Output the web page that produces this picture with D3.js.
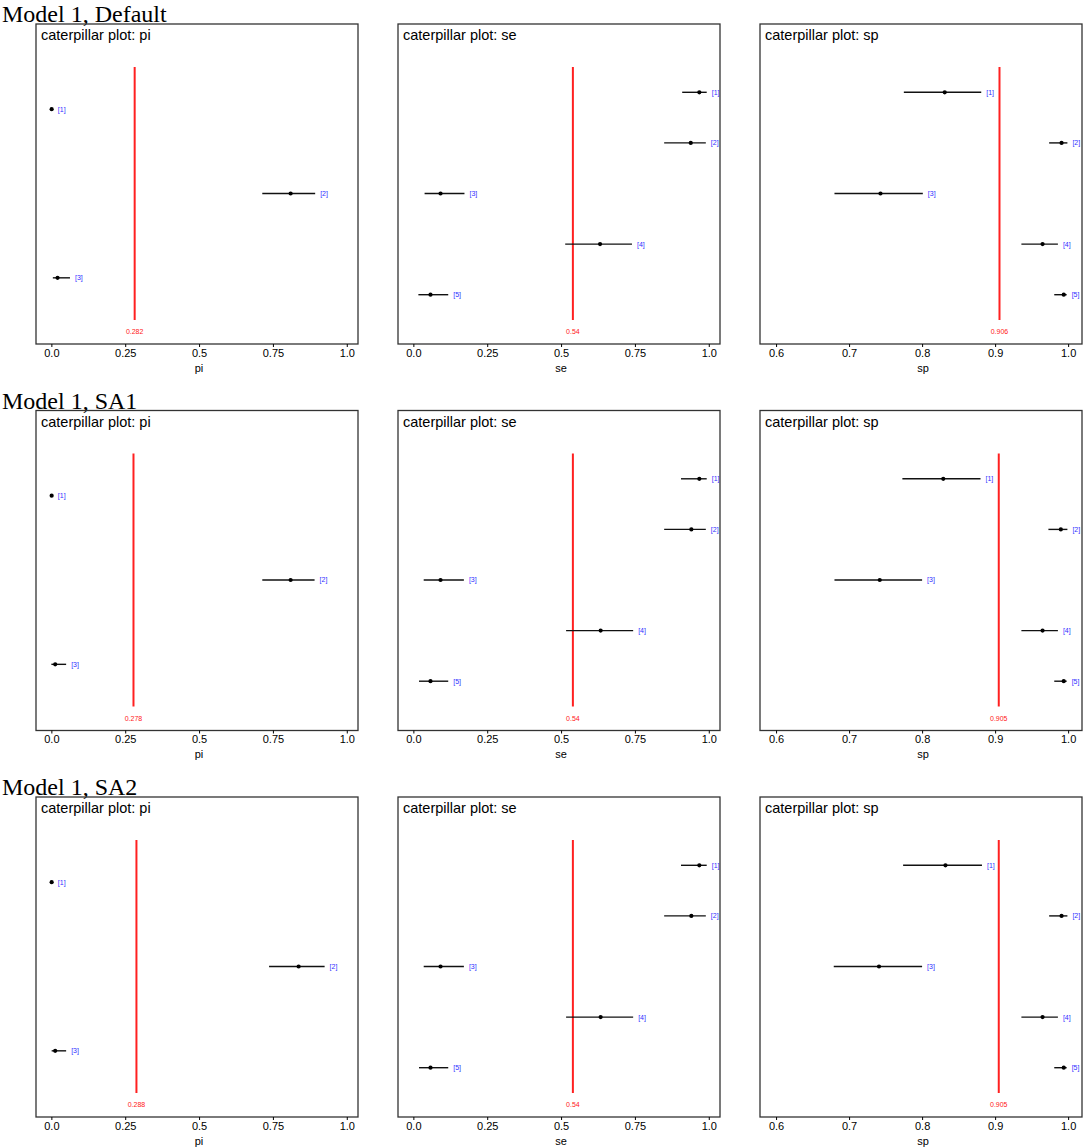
<!DOCTYPE html>
<meta charset="utf-8">
<style>
body {
  margin: 0;
  background: #fff;
}
svg {
  display: block;
}
.frame {
  fill: none;
  stroke: #333;
  stroke-width: 1.3px;
}
.interval {
  stroke: #111;
  stroke-width: 1.4px;
}
.ref {
  stroke: #ff2020;
  stroke-width: 2px;
}
.axis path, .axis line {
  stroke: #000;
}
</style>
<body>
<script src="https://cdn.jsdelivr.net/npm/d3@7"></script>
<script>

// row titles
var models = ["Model 1, Default", "Model 1, SA1", "Model 1, SA2"];
var params = ["pi", "se", "sp"];

// pi (3 classes)
var piMean = [[0.001, 0.810, 0.021], [0.001, 0.810, 0.013], [0.001, 0.837, 0.013]];
var piLow  = [[-0.004, 0.714, 0.005], [-0.004, 0.714, 0.000], [-0.004, 0.737, 0.001]];
var piHigh = [[0.005, 0.893, 0.063], [0.005, 0.891, 0.050], [0.005, 0.925, 0.050]];
var piRef  = [0.282, 0.278, 0.288];

// se (5 tests)
var seMean = [[0.968, 0.939, 0.092, 0.632, 0.058], [0.968, 0.941, 0.092, 0.634, 0.058], [0.968, 0.941, 0.092, 0.634, 0.058]];
var seLow  = [[0.910, 0.849, 0.038, 0.514, 0.017], [0.906, 0.849, 0.035, 0.517, 0.019], [0.906, 0.849, 0.035, 0.517, 0.019]];
var seHigh = [[0.993, 0.990, 0.173, 0.740, 0.118], [0.993, 0.990, 0.171, 0.744, 0.118], [0.993, 0.990, 0.171, 0.744, 0.118]];
var seRef  = [0.54, 0.54, 0.54];

// sp (5 tests)
var spMean = [[0.831, 0.991, 0.743, 0.965, 0.994], [0.829, 0.990, 0.742, 0.965, 0.994], [0.832, 0.991, 0.741, 0.965, 0.994]];
var spLow  = [[0.775, 0.974, 0.680, 0.936, 0.981], [0.773, 0.973, 0.680, 0.936, 0.981], [0.774, 0.974, 0.679, 0.936, 0.981]];
var spHigh = [[0.881, 0.999, 0.801, 0.986, 0.998], [0.880, 0.999, 0.800, 0.986, 0.998], [0.882, 0.999, 0.800, 0.986, 0.998]];
var spRef  = [0.906, 0.905, 0.905];

// axis ticks
var unitTicks = [0, 0.25, 0.5, 0.75, 1];
var unitTickLabels = ["0.0", "0.25", "0.5", "0.75", "1.0"];
var spTicks = [0.6, 0.7, 0.8, 0.9, 1.0];
var spTickLabels = ["0.6", "0.7", "0.8", "0.9", "1.0"];

var W = 1084, H = 1147;
var panelW = 322, panelH = 320;
var panelX = [36, 398, 760];
var rowTop = 24, rowStep = 386.5;

var sets = {
  pi: {mean: piMean, low: piLow, high: piHigh, ref: piRef, domain: [-0.052, 1.038], ticks: unitTicks, labels: unitTickLabels},
  se: {mean: seMean, low: seLow, high: seHigh, ref: seRef, domain: [-0.052, 1.038], ticks: unitTicks, labels: unitTickLabels},
  sp: {mean: spMean, low: spLow, high: spHigh, ref: spRef, domain: [0.578, 1.019], ticks: spTicks, labels: spTickLabels}
};

var svg = d3.select("body").append("svg")
    .attr("width", W)
    .attr("height", H);

models.forEach(function(model, r) {
  var top = rowTop + r * rowStep;

  svg.append("text")
      .attr("x", 2)
      .attr("y", top - 2)
      .style("font-family", "'Liberation Serif', 'Times New Roman', serif")
      .style("font-size", "24px")
      .text(model);

  params.forEach(function(p, c) {
    var s = sets[p];
    var left = panelX[c];
    var g = svg.append("g")
        .attr("transform", "translate(" + left + "," + top + ")");

    var x = d3.scaleLinear()
        .domain(s.domain)
        .range([0, panelW]);

    var rows = s.mean[r].map(function(m, i) {
      return {id: "[" + (i + 1) + "]", mean: m, low: s.low[r][i], high: s.high[r][i]};
    });

    var y = d3.scalePoint()
        .domain(rows.map(function(d) { return d.id; }))
        .range([43, 296])
        .padding(0.5);

    g.append("rect")
        .attr("class", "frame")
        .attr("width", panelW)
        .attr("height", panelH);

    g.append("text")
        .attr("x", 5)
        .attr("y", 16)
        .style("font-family", "'Liberation Sans', Arial, sans-serif")
        .style("font-size", "14.5px")
        .text("caterpillar plot: " + p);

    // reference line (overall mean)
    g.append("line")
        .attr("class", "ref")
        .attr("x1", x(s.ref[r]))
        .attr("x2", x(s.ref[r]))
        .attr("y1", 43)
        .attr("y2", 296);

    g.append("text")
        .attr("x", x(s.ref[r]))
        .attr("y", 310)
        .attr("text-anchor", "middle")
        .style("font-family", "'Liberation Sans', Arial, sans-serif")
        .style("font-size", "7px")
        .style("fill", "#ff2020")
        .text(String(s.ref[r]));

    var item = g.selectAll("g.item")
        .data(rows)
      .enter().append("g")
        .attr("class", "item");

    item.append("line")
        .attr("class", "interval")
        .attr("x1", function(d) { return x(d.low); })
        .attr("x2", function(d) { return x(d.high); })
        .attr("y1", function(d) { return y(d.id); })
        .attr("y2", function(d) { return y(d.id); });

    item.append("circle")
        .attr("cx", function(d) { return x(d.mean); })
        .attr("cy", function(d) { return y(d.id); })
        .attr("r", 2.1)
        .style("fill", "#000");

    item.append("text")
        .attr("x", function(d) { return x(d.high) + 5; })
        .attr("y", function(d) { return y(d.id); })
        .attr("dy", "0.35em")
        .style("font-family", "'Liberation Sans', Arial, sans-serif")
        .style("font-size", "7px")
        .style("fill", "#3030ff")
        .text(function(d) { return d.id; });

    // x axis
    var axis = g.append("g")
        .attr("class", "axis")
        .attr("transform", "translate(0," + panelH + ")")
        .call(d3.axisBottom(x)
            .tickValues(s.ticks)
            .tickSize(3)
            .tickSizeOuter(0)
            .tickFormat(function(d, i) { return s.labels[i]; }));
    axis.select(".domain").remove();
    axis.selectAll("text")
        .attr("y", 5)
        .style("font-family", "'Liberation Sans', Arial, sans-serif")
        .style("font-size", "11px")
        .style("fill", "#000");

    g.append("text")
        .attr("x", panelW / 2 + 2)
        .attr("y", panelH + 27.5)
        .attr("text-anchor", "middle")
        .style("font-family", "'Liberation Sans', Arial, sans-serif")
        .style("font-size", "11px")
        .text(p);
  });
});

</script>
</body>
